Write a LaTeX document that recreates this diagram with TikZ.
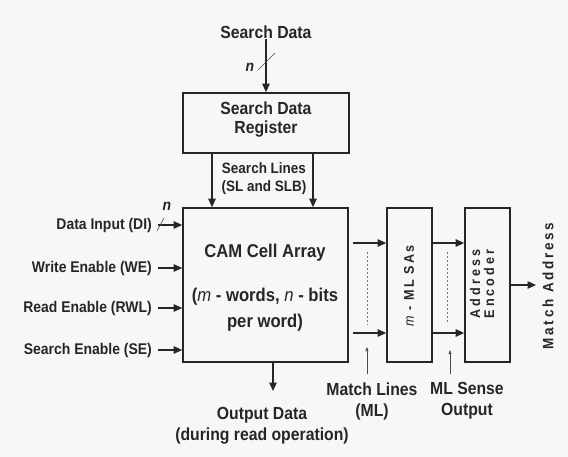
\documentclass[tikz,border=0pt]{standalone}
\usepackage{fontspec}
\setmainfont{Liberation Sans}[FakeStretch=0.9]
\usetikzlibrary{arrows.meta,calc}
\begin{document}
\begin{tikzpicture}[x=1pt,y=-1pt,
  box/.style={draw=black!85,line width=1.7pt,inner sep=0pt},
  arr/.style={draw=black!85,line width=1.1pt,-{Triangle[length=8.5pt,width=7.5pt]}},
  thin/.style={draw=black!70,line width=0.6pt},
  dsh/.style={draw=black!55,line width=0.6pt,dash pattern=on 2pt off 2pt},
  lblS/.style={font=\bfseries\fontsize{15.5}{18}\selectfont,text=black!85,inner sep=0pt},
  lblM/.style={font=\bfseries\fontsize{17.5}{21}\selectfont,text=black!85,inner sep=0pt,align=center},
  lblB/.style={font=\bfseries\fontsize{18.5}{26}\selectfont,text=black!85,inner sep=0pt,align=center}]
\fill[black!3] (0,0) rectangle (568,457);
\useasboundingbox (0,0) rectangle (568,457);

% main boxes
\node[box,minimum width=166pt,minimum height=60pt] (reg) at (266,123) {};
\node[lblM,font=\bfseries\fontsize{17.5}{19}\selectfont] (regt) at (266,120) {Search Data\\Register};
\node[box,minimum width=165pt,minimum height=154pt] (cam) at (265.5,285) {};
\node[lblB] (camt1) at (265,253) {CAM Cell Array};
\node[lblB] (camt2) at (265,310) {({\mdseries\itshape m} - words, {\mdseries\itshape n} - bits\\per word)};
\node[box,minimum width=45pt,minimum height=154pt] (mlsa) at (409.5,285) {};
\node[lblS,rotate=90,font=\bfseries\fontsize{14}{16}\selectfont\addfontfeatures{LetterSpace=15}] (mlsat) at (409,286) {{\mdseries\itshape m} - ML SAs};
\node[box,minimum width=45pt,minimum height=154pt] (enc) at (487.5,285) {};
\node[lblS,rotate=90,align=center,font=\bfseries\fontsize{14}{14}\selectfont\addfontfeatures{LetterSpace=22}] (enct) at (482,284) {Address\\Encoder};

% search data input
\node[lblM] (sd) at (266,32) {Search Data};
\draw[arr] (sd.south) -- (reg.north);
\coordinate (s1a) at (258,70);
\coordinate (s1b) at (275,53);
\draw[thin] (s1a) -- (s1b);
\node[lblS,font=\bfseries\itshape\fontsize{15.5}{18}\selectfont] (n1) at (250,67) {n};

% search lines
\coordinate (sl1) at (212,153);
\coordinate (sl2) at (313,153);
\draw[arr] (sl1) -- (sl1 |- cam.north);
\draw[arr] (sl2) -- (sl2 |- cam.north);
\node[lblS,align=center,font=\bfseries\fontsize{15}{18}\selectfont] (slt) at (264,179) {Search Lines\\(SL and SLB)};

% left inputs
\node[lblS,anchor=east] (di) at (152,225) {Data Input (DI)};
\node[lblS,anchor=east] (we) at (152,268) {Write Enable (WE)};
\node[lblS,anchor=east] (re) at (152,308) {Read Enable (RWL)};
\node[lblS,anchor=east] (se) at (152,350) {Search Enable (SE)};
\draw[arr] ([xshift=6pt]di.east) -- (di.east -| cam.west);
\draw[arr] ([xshift=6pt]we.east) -- (we.east -| cam.west);
\draw[arr] ([xshift=6pt]re.east) -- (re.east -| cam.west);
\draw[arr] ([xshift=6pt]se.east) -- (se.east -| cam.west);
\coordinate (s2a) at (157,231);
\coordinate (s2b) at (164,218);
\draw[thin] (s2a) -- (s2b);
\node[lblS,font=\bfseries\itshape\fontsize{15.5}{18}\selectfont] (n2) at (167,206) {n};

% match lines
\coordinate (ml1) at (353,243);
\coordinate (ml2) at (353,333);
\draw[arr] (ml1) -- (ml1 -| mlsa.west);
\draw[arr] (ml2) -- (ml2 -| mlsa.west);
\coordinate (mld1) at (367,252);
\coordinate (mld2) at (367,325);
\draw[dsh] (mld1) -- (mld2);
\coordinate (mlp1) at (367,374);
\coordinate (mlp2) at (367,347);
\draw[thin,-{Triangle[length=4pt,width=3pt]}] (mlp1) -- (mlp2);
\node[lblM] (mlt) at (372,401) {Match Lines\\(ML)};

% ML sense output
\coordinate (so1) at (mlsa.east |- ml1);
\coordinate (so2) at (mlsa.east |- ml2);
\draw[arr] (so1) -- (so1 -| enc.west);
\draw[arr] (so2) -- (so2 -| enc.west);
\coordinate (sd1) at (447,252);
\coordinate (sd2) at (447,322);
\draw[dsh] (sd1) -- (sd2);
\coordinate (sp1) at (450,374);
\coordinate (sp2) at (450,350);
\draw[thin,-{Triangle[length=4pt,width=3pt]}] (sp1) -- (sp2);
\node[lblM] (mst) at (467,401) {ML Sense\\Output};

% match address output
\coordinate (ma) at (536,285);
\draw[arr] (enc.east) -- (ma);
\node[lblS,rotate=90,font=\bfseries\fontsize{15}{15}\selectfont\addfontfeatures{LetterSpace=18}] (mat) at (548,286) {Match Address};

% output data
\coordinate (od) at (273,391);
\draw[arr] (od |- cam.south) -- (od);
\node[lblM] (odt) at (262,426) {Output Data\\(during read operation)};
\end{tikzpicture}
\end{document}
